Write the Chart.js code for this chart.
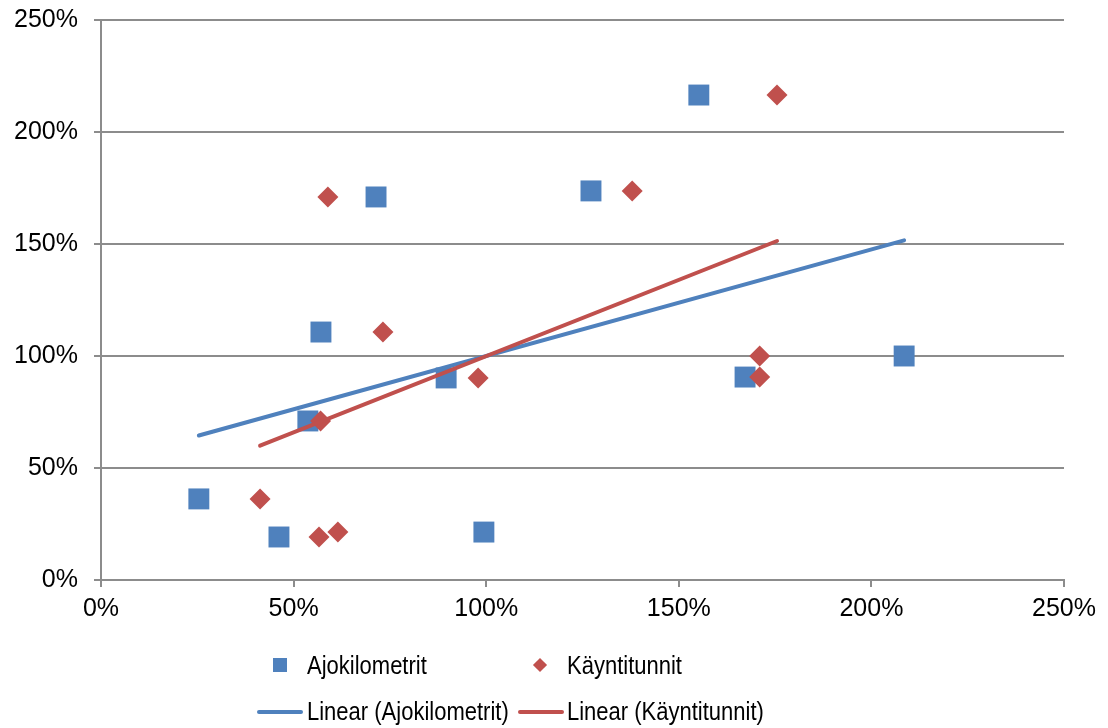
<!DOCTYPE html>
<html>
<head>
<meta charset="utf-8">
<script src="https://cdn.jsdelivr.net/npm/chart.js@4/dist/chart.umd.min.js"></script>
<style>
  html, body { margin: 0; padding: 0; background: #fff; overflow: hidden; }
  #wrap { position: relative; width: 1108px; height: 728px; overflow: hidden; }
  canvas { position: absolute; left: 0; top: -11px; }
  .leg { position: absolute; font-family: "Liberation Sans", Arial, sans-serif; font-size: 25px; color: #000; white-space: nowrap; line-height: 28px; transform: scaleX(0.88); transform-origin: 0 0; }
  .sq { position: absolute; width: 14px; height: 14px; background: #4F81BD; }
  .dia { position: absolute; width: 10px; height: 10px; background: #C0504D; transform: rotate(45deg); }
  .ln { position: absolute; height: 4px; border-radius: 2px; }
</style>
</head>
<body>
<div id="wrap">
  <canvas id="c" width="1108" height="739"></canvas>
  <div class="sq" style="left:273px; top:658px;"></div>
  <div class="leg" style="left:307px; top:651px;">Ajokilometrit</div>
  <div class="dia" style="left:535px; top:660px;"></div>
  <div class="leg" style="left:567px; top:651px;">Käyntitunnit</div>
  <div class="ln" style="left:257px; top:710px; width:46px; background:#4F81BD;"></div>
  <div class="leg" style="left:307px; top:697px;">Linear (Ajokilometrit)</div>
  <div class="ln" style="left:518px; top:710px; width:46px; background:#C0504D;"></div>
  <div class="leg" style="left:567px; top:697px;">Linear (Käyntitunnit)</div>
</div>
<script>
// Mileage index (x) and relative value (y), in percent
const ajoX = [25.4, 46.2, 53.7, 57.1, 71.4, 89.6, 99.4, 127.2, 155.2, 167.2, 208.5];
const ajoY = [36.2, 19.2, 71.0, 110.7, 171.0, 90.2, 21.4, 173.7, 216.5, 90.6, 100.0];
// Operating-hours index (x) and relative value (y), in percent
const kayX = [41.3, 56.6, 57.0, 61.5, 58.9, 73.2, 97.9, 137.9, 175.5, 171.0, 171.0];
const kayY = [36.2, 19.2, 71.0, 21.4, 171.0, 110.7, 90.2, 173.7, 216.5, 100.0, 90.6];
const axisTicks = [0, 50, 100, 150, 200, 250];

const BLUE = '#4F81BD';
const RED = '#C0504D';
const GRID = '#8c8c8c';
const FONT = { family: '"Liberation Sans", Arial, sans-serif', size: 25 };

function pts(xs, ys) { return xs.map((x, i) => ({ x: x, y: ys[i] })); }

// Least-squares trend line spanning the series' x range
function trend(xs, ys) {
  const n = xs.length;
  const mx = xs.reduce((a, b) => a + b, 0) / n;
  const my = ys.reduce((a, b) => a + b, 0) / n;
  let sxy = 0, sxx = 0;
  for (let i = 0; i < n; i++) { sxy += (xs[i] - mx) * (ys[i] - my); sxx += (xs[i] - mx) ** 2; }
  const b = sxy / sxx, a = my - b * mx;
  const x0 = Math.min(...xs), x1 = Math.max(...xs);
  return [{ x: x0, y: a + b * x0 }, { x: x1, y: a + b * x1 }];
}

new Chart(document.getElementById('c'), {
  type: 'scatter',
  data: {
    datasets: [
      { label: 'Linear (Käyntitunnit)', data: trend(kayX, kayY), type: 'line', showLine: true,
        borderColor: RED, borderWidth: 4, pointRadius: 0, fill: false, order: 0, borderCapStyle: 'round' },
      { label: 'Linear (Ajokilometrit)', data: trend(ajoX, ajoY), type: 'line', showLine: true,
        borderColor: BLUE, borderWidth: 4, pointRadius: 0, fill: false, order: 1, borderCapStyle: 'round' },
      { label: 'Käyntitunnit', data: pts(kayX, kayY), pointStyle: 'rectRot', pointRadius: 10.5,
        backgroundColor: RED, borderColor: RED, borderWidth: 0, order: 2 },
      { label: 'Ajokilometrit', data: pts(ajoX, ajoY), pointStyle: 'rect', pointRadius: 14.8,
        backgroundColor: BLUE, borderColor: BLUE, borderWidth: 0, order: 3 }
    ]
  },
  options: {
    responsive: false,
    animation: false,
    layout: { padding: { top: 10, right: 44, left: 0, bottom: 0 } },
    plugins: { legend: { display: false }, tooltip: { enabled: false } },
    scales: {
      x: {
        type: 'linear', min: 0, max: 250,
        afterBuildTicks: s => { s.ticks = axisTicks.map(v => ({ value: v })); },
        afterFit: s => { s.height = 148; },
        grid: { drawOnChartArea: false, drawTicks: true, tickLength: 7, color: GRID, lineWidth: 2 },
        border: { color: GRID, width: 2 },
        ticks: { color: '#000', font: FONT, padding: 7, callback: v => v + '%' }
      },
      y: {
        type: 'linear', min: 0, max: 250,
        afterBuildTicks: s => { s.ticks = axisTicks.map(v => ({ value: v })); },
        afterFit: s => { s.width = 101; },
        grid: { drawOnChartArea: true, drawTicks: true, tickLength: 7, color: GRID, lineWidth: 2 },
        border: { color: GRID, width: 2 },
        ticks: { color: '#000', font: FONT, padding: 16, callback: v => v + '%' }
      }
    }
  }
});
</script>
</body>
</html>
